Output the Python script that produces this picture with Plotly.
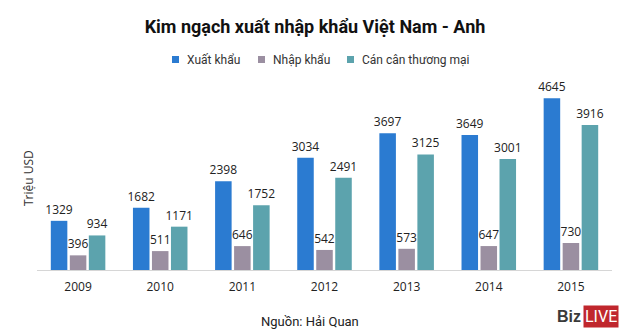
import plotly.graph_objects as go

# Data: Vietnam - UK trade (million USD)
years = ["2009", "2010", "2011", "2012", "2013", "2014", "2015"]
xuat_khau = [1329, 1682, 2398, 3034, 3697, 3649, 4645]
nhap_khau = [396, 511, 646, 542, 573, 647, 730]
can_can = [934, 1171, 1752, 2491, 3125, 3001, 3916]
series_names = ["Xuất khẩu", "Nhập khẩu", "Cán cân thương mại"]
series_colors = ["#2b7bd1", "#9b8fa1", "#5ca3ad"]

W, H = 625, 334
ML, MR, MT, MB = 37, 13, 85, 64
PW, PH = W - ML - MR, H - MT - MB

NARROW = "Roboto, sans-serif"
SANS = "Open Sans, Noto Sans, sans-serif"


def px(x):
    return (x - ML) / PW


def py(y):
    return (H - MB - y) / PH


fig = go.Figure()
for name, vals, color in zip(series_names, [xuat_khau, nhap_khau, can_can], series_colors):
    fig.add_bar(
        x=years, y=vals, name=name,
        marker=dict(color=color, line_width=0),
        text=[str(v) for v in vals], textposition="outside",
        constraintext="none",
        textfont=dict(family=SANS, size=12, color="#222222"),
        cliponaxis=False, showlegend=False,
    )

# Custom legend: small squares with labels
legend_x = [172, 258, 347]
shapes = []
annotations = []
for lx, name, color in zip(legend_x, series_names, series_colors):
    shapes.append(dict(type="rect", xref="paper", yref="paper",
                       x0=px(lx), x1=px(lx + 7), y0=py(63), y1=py(56),
                       fillcolor=color, line_width=0))
    annotations.append(dict(text=name, xref="paper", yref="paper",
                            x=px(lx + 13), y=py(59.5), xanchor="left", yanchor="middle",
                            showarrow=False, font=dict(family=NARROW, size=12, color="#333333")))

annotations += [
    dict(text="Triệu USD", xref="paper", yref="paper", x=px(28), y=py(178),
         textangle=-90, showarrow=False, xanchor="center", yanchor="middle",
         font=dict(family=SANS, size=12, color="#333333")),
    dict(text="Nguồn: Hải Quan", xref="paper", yref="paper", x=px(310), y=py(321),
         showarrow=False, xanchor="center", yanchor="middle",
         font=dict(family=NARROW, size=13, color="#222222")),
    dict(text="<b>Biz</b>", xref="paper", yref="paper", x=px(583), y=py(316),
         showarrow=False, xanchor="right", yanchor="middle",
         font=dict(family="Liberation Sans, sans-serif", size=16, color="#3a3a3a")),
    dict(text="LIVE", xref="paper", yref="paper", x=px(583), y=py(316),
         showarrow=False, xanchor="left", yanchor="middle", bgcolor="#c0272d",
         borderpad=1, font=dict(family=NARROW, size=16, color="#ffffff")),
]

fig.update_layout(
    width=W, height=H,
    margin=dict(l=ML, r=MR, t=MT, b=MB),
    paper_bgcolor="white", plot_bgcolor="white",
    barmode="group", bargap=0.306, bargroupgap=0.13,
    title=dict(text="Kim ngạch xuất nhập khẩu Việt Nam - Anh",
               x=315 / W, y=1 - 27 / H, xref="container", yref="container",
               xanchor="center", yanchor="middle",
               font=dict(family=NARROW, size=18, color="#111111", weight="bold")),
    xaxis=dict(showline=True, linecolor="#d6d6d6", linewidth=1, ticks="",
               showgrid=False, zeroline=False, ticklabelstandoff=6,
               tickfont=dict(family=SANS, size=12, color="#222222")),
    yaxis=dict(range=[0, 5000], showticklabels=False, showgrid=False,
               zeroline=False, showline=False, ticks=""),
    shapes=shapes, annotations=annotations,
)

fig.write_html("out.html")
